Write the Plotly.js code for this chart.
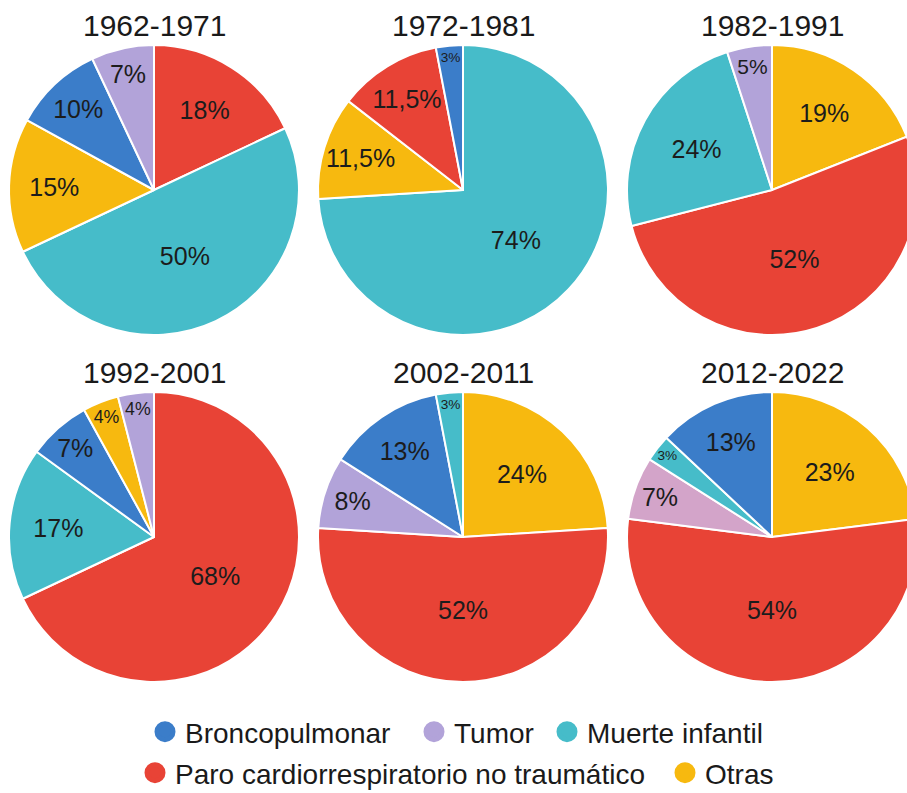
<!DOCTYPE html>
<html>
<head>
<meta charset="utf-8">
<script src="https://cdn.plot.ly/plotly-3.0.1.min.js"></script>
<style>
html, body { margin: 0; padding: 0; overflow: hidden; background: #fff; }
#chart { width: 930px; height: 793px; }
</style>
</head>
<body>
<div id="chart"></div>
<script>
// ---- data ----
const periods = ["1962-1971", "1972-1981", "1982-1991", "1992-2001", "2002-2011", "2012-2022"];
const legendCategories = ["Broncopulmonar", "Tumor", "Muerte infantil", "Paro cardiorrespiratorio no traumático", "Otras"];

// slices listed clockwise from 12 o'clock
const labels1962 = ["Paro cardiorrespiratorio no traumático", "Muerte infantil", "Otras", "Broncopulmonar", "Tumor"];
const values1962 = [18, 50, 15, 10, 7];
const labels1972 = ["Muerte infantil", "Otras", "Paro cardiorrespiratorio no traumático", "Broncopulmonar"];
const values1972 = [74, 11.5, 11.5, 3];
const labels1982 = ["Otras", "Paro cardiorrespiratorio no traumático", "Muerte infantil", "Tumor"];
const values1982 = [19, 52, 24, 5];
const labels1992 = ["Paro cardiorrespiratorio no traumático", "Muerte infantil", "Broncopulmonar", "Otras", "Tumor"];
const values1992 = [68, 17, 7, 4, 4];
const labels2002 = ["Otras", "Paro cardiorrespiratorio no traumático", "Tumor", "Broncopulmonar", "Muerte infantil"];
const values2002 = [24, 52, 8, 13, 3];
const labels2012 = ["Otras", "Paro cardiorrespiratorio no traumático", "Tumor", "Muerte infantil", "Broncopulmonar"];
const values2012 = [23, 54, 7, 3, 13];

const allLabels = [labels1962, labels1972, labels1982, labels1992, labels2002, labels2012];
const allValues = [values1962, values1972, values1982, values1992, values2002, values2012];

// ---- styles ----
const colorMap = {
  "Broncopulmonar": "#3b7dc9",
  "Tumor": "#b2a3d9",
  "Muerte infantil": "#46bcc9",
  "Paro cardiorrespiratorio no traumático": "#e84336",
  "Otras": "#f7b90f"
};
const colorOverrides = [{}, {}, {}, {}, {}, {"Tumor": "#d3a4c9"}];

const W = 930, H = 793;
const cxs = [154, 463, 772];
const cys = [190, 537];
const R = 145;
const FONT = "Liberation Sans, Arial, sans-serif";

function labelSize(v) {
  if (v <= 3) return 17;
  if (v <= 4) return 18;
  if (v <= 5) return 21;
  return 25;
}

const traces = [];
const annotations = [];
periods.forEach((p, i) => {
  const col = i % 3, row = Math.floor(i / 3);
  const cx = cxs[col], cy = cys[row];
  const labs = allLabels[i], vals = allValues[i];
  traces.push({
    type: "pie",
    labels: labs,
    values: vals,
    sort: false,
    direction: "clockwise",
    rotation: 0,
    textinfo: "percent",
    textposition: "inside",
    insidetextorientation: "horizontal",
    textfont: { family: FONT, color: "#1c1c1c", size: vals.map(labelSize) },
    marker: {
      colors: labs.map(l => colorOverrides[i][l] || colorMap[l]),
      line: { color: "#ffffff", width: 2 }
    },
    hoverinfo: "label+percent",
    showlegend: false,
    domain: {
      x: [(cx - R) / W, (cx + R) / W],
      y: [(H - cy - R) / H, (H - cy + R) / H]
    }
  });
  annotations.push({
    text: p,
    xref: "paper", yref: "paper",
    x: cx / W, y: (H - (row === 0 ? 25 : 372)) / H,
    xanchor: "center", yanchor: "middle",
    showarrow: false,
    font: { family: FONT, size: 30, color: "#1a1a1a" }
  });
});

// legend entry widths (px of text slot) to match spacing
const legendWidths = [224, 88, 0, 485, 0];

legendCategories.forEach((c, k) => {
  const t = {
    type: "scatter",
    mode: "markers",
    x: [null], y: [null],
    name: c,
    marker: { color: colorMap[c], size: 16, symbol: "circle", line: { color: colorMap[c], width: 5 } },
    legend: k < 3 ? "legend" : "legend2",
    hoverinfo: "skip"
  };
  if (legendWidths[k]) t.legendwidth = legendWidths[k];
  traces.push(t);
});

const legendCommon = {
  orientation: "h",
  xanchor: "left",
  yanchor: "middle",
  font: { family: FONT, size: 28, color: "#1a1a1a" },
  itemwidth: 30,
  tracegroupgap: 0,
  bgcolor: "rgba(0,0,0,0)"
};

const layout = {
  width: W, height: H,
  margin: { l: 0, r: 0, t: 0, b: 0, autoexpand: false },
  paper_bgcolor: "#ffffff",
  plot_bgcolor: "#ffffff",
  separators: ",.",
  font: { family: FONT },
  xaxis: { visible: false },
  yaxis: { visible: false },
  showlegend: true,
  legend: Object.assign({}, legendCommon, { x: 145 / W, y: (H - 732) / H }),
  legend2: Object.assign({}, legendCommon, { x: 135 / W, y: (H - 773) / H }),
  annotations: annotations
};

Plotly.newPlot("chart", traces, layout, { displayModeBar: false, staticPlot: true });
</script>
</body>
</html>
